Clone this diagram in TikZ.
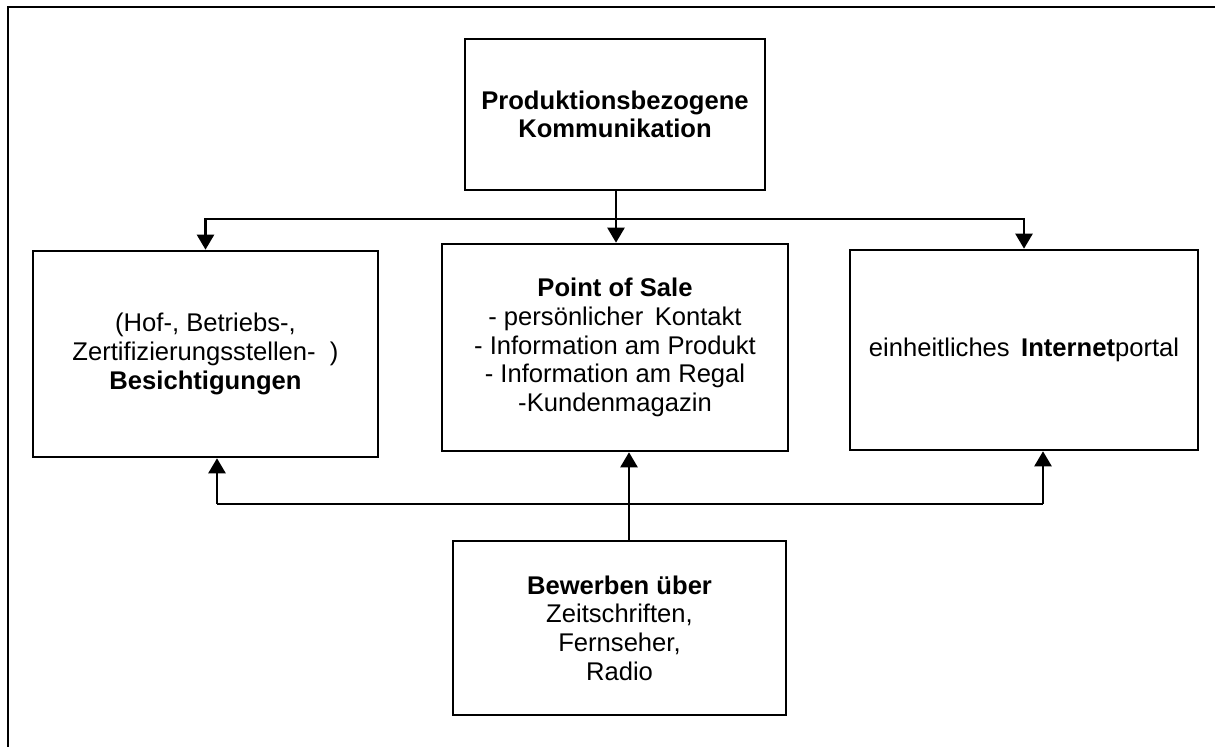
\documentclass[tikz,border=0pt]{standalone}
\usepackage{fontspec}
\setmainfont{Liberation Sans}
\usetikzlibrary{arrows.meta}

\tikzset{
	box/.style={draw, line width=1.3pt, align=center, inner sep=0pt, font=\fontsize{12.8}{14.3}\selectfont},
	arr/.style={line width=1.2pt, -{Triangle[width=8.5pt,length=7.5pt]}},
	rail/.style={line width=1.2pt}
}

\begin{document}
\begin{tikzpicture}[x=0.5pt, y=0.5pt]
		%%%%% START %%%%%
		\useasboundingbox (0, 0) rectangle (1215, 747);
		
		% frame (top and left edge only)
		\draw[line width=1pt] (8, 0) -- (8, 740) -- (1215, 740);
		
		\node[box, minimum width=150pt, minimum height=75.5pt] (prod) at (615, 632.5)
			{\textbf{Produktionsbezogene}\\\textbf{Kommunikation}};
		
		\node[box, minimum width=172.5pt, minimum height=103pt] (hof) at (205.5, 393)
			{(Hof-, Betriebs-,\\Zertifizierungsstellen-\ \ )\\\textbf{Besichtigungen}};
		\node[box, minimum width=173pt, minimum height=103.5pt] (pos) at (615, 399.5)
			{\textbf{Point of Sale}\\- persönlicher\ \,Kontakt\\- Information am Produkt\\- Information am Regal\\-Kundenmagazin};
		\node[box, minimum width=174pt, minimum height=100pt] (web) at (1024, 397)
			{einheitliches\ \,\textbf{Internet}portal};
		
		\node[box, minimum width=166.5pt, minimum height=87pt] (werb) at (619.5, 119)
			{\textbf{Bewerben über}\\Zeitschriften,\\Fernseher,\\Radio};
		
		% upper branch
		\coordinate (split) at (616, 528);
		\draw[arr] (prod.south -| split) -- (pos.north -| split);
		\draw[arr] (split) -| (hof.north);
		\draw[arr] (split) -| (web.north);
		
		% lower branch
		\coordinate (jl) at (217, 243);
		\coordinate (jm) at (629, 243);
		\coordinate (jr) at (1043, 243);
		\draw[rail] (jl) -- (jr);
		\draw[arr] (jl) -- (jl |- hof.south);
		\draw[arr] (jr) -- (jr |- web.south);
		\draw[arr] (werb.north -| jm) -- (jm |- pos.south);
		
		%%%%% END %%%%%
	\end{tikzpicture}
\end{document}
